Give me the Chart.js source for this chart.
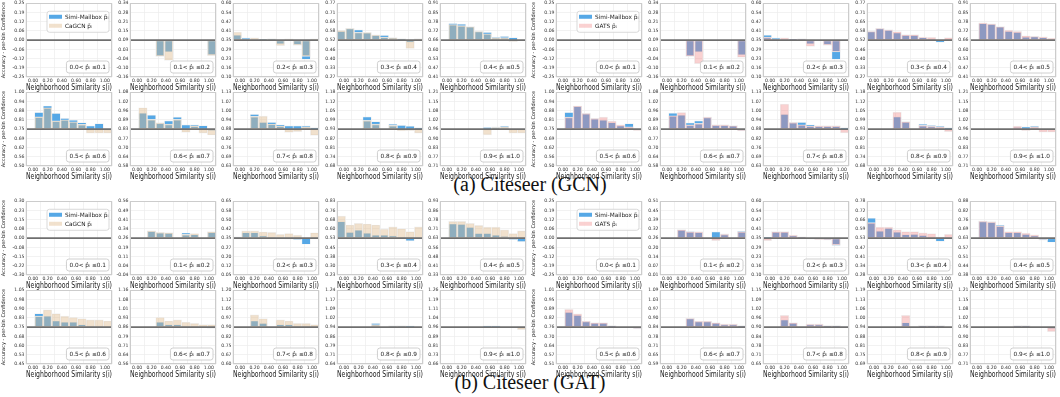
<!DOCTYPE html>
<html><head><meta charset="utf-8">
<script src="https://cdn.jsdelivr.net/npm/chart.js@4/dist/chart.umd.min.js"></script>
<style>
body{margin:0;background:#fff;width:1060px;height:397px;position:relative;overflow:hidden;font-family:"DejaVu Sans",sans-serif}
canvas.p{position:absolute}
.cap{position:absolute;left:0;width:1060px;text-align:center;font-family:"Liberation Serif",serif;font-size:20px;color:#111}
</style></head>
<body>
<div class="cap" style="top:173px">(a) Citeseer (GCN)</div>
<div class="cap" style="top:371px">(b) Citeseer (GAT)</div>
<script>
// ---------- data ----------
const bins = ['0.0-0.1','0.1-0.2','0.2-0.3','0.3-0.4','0.4-0.5','0.5-0.6','0.6-0.7','0.7-0.8','0.8-0.9','0.9-1.0'];
const confLabels = ['0.0< p\u0302\u1d62 \u22640.1','0.1< p\u0302\u1d62 \u22640.2','0.2< p\u0302\u1d62 \u22640.3','0.3< p\u0302\u1d62 \u22640.4','0.4< p\u0302\u1d62 \u22640.5',
                    '0.5< p\u0302\u1d62 \u22640.6','0.6< p\u0302\u1d62 \u22640.7','0.7< p\u0302\u1d62 \u22640.8','0.8< p\u0302\u1d62 \u22640.9','0.9< p\u0302\u1d62 \u22641.0'];
const xTickValues = [0, 0.2, 0.4, 0.6, 0.8, 1.0];

// y-axis limits per panel (tick labels are 9 evenly spaced values between them)
const yMinGCN = [-0.25, -0.16, 0.10, 0.27, 0.41, 0.50, 0.58, 0.63, 0.68, 0.71];
const yMaxGCN = [ 0.25,  0.34, 0.60, 0.77, 0.91, 1.00, 1.08, 1.13, 1.18, 1.21];
const yMinGAT_CaGCN = [-0.30, -0.04, 0.05, 0.23, 0.33, 0.45, 0.56, 0.60, 0.64, 0.66];
const yMaxGAT_CaGCN = [ 0.30,  0.56, 0.65, 0.83, 0.93, 1.05, 1.16, 1.20, 1.24, 1.26];
const yMinGAT_GATS = [-0.25, 0.01, 0.10, 0.28, 0.38, 0.51, 0.59, 0.65, 0.69, 0.71];
const yMaxGAT_GATS = [ 0.25, 0.51, 0.60, 0.78, 0.88, 1.01, 1.09, 1.15, 1.19, 1.21];

// per-bin accuracy, one row per confidence panel, one value per similarity bin
const simiGCN = [
 [null,null,null,null,null,null,null,null,null,null],
 [null,null,null,-0.02,0.01,null,null,null,null,-0.01],
 [0.384,0.365,0.358,0.356,0.358,0.325,null,0.316,0.22,null],
 [0.58,0.60,0.59,0.569,0.552,0.552,0.537,0.531,0.505,null],
 [null,0.773,0.769,0.752,0.72,0.713,0.681,0.686,0.677,null],
 [null,0.863,0.907,0.857,0.823,0.811,0.794,0.772,0.787,0.745],
 [null,0.938,0.925,0.872,0.886,0.911,0.859,0.859,0.854,0.82],
 [null,null,0.98,0.926,0.926,0.91,0.902,0.902,0.902,0.89],
 [null,null,null,1.013,0.981,null,0.964,0.955,0.95,0.94],
 [null,null,null,null,null,0.972,0.975,0.98,null,null]
];
const cagcnGCN = [
 [null,null,null,null,null,null,null,null,null,null],
 [null,null,null,-0.02,-0.047,null,null,null,null,-0.015],
 [0.405,0.358,0.365,0.356,0.358,0.312,0.358,0.316,0.24,0.358],
 [0.586,0.60,0.573,0.573,0.556,0.541,0.537,0.526,0.463,0.53],
 [null,0.766,0.758,0.752,0.72,0.703,0.677,0.677,0.65,null],
 [null,0.833,0.895,0.806,0.813,0.80,0.782,0.723,0.723,0.723],
 [null,0.975,0.896,0.872,0.864,0.896,0.808,0.852,0.803,0.79],
 [null,null,0.966,0.968,0.915,0.902,0.858,0.863,0.895,0.838],
 [null,null,null,0.989,0.964,null,0.955,0.918,0.92,0.903],
 [null,null,null,null,null,0.921,0.972,0.975,0.933,0.933]
];
const gatsGCN = [
 [null,null,null,null,null,null,null,null,null,null],
 [null,null,null,-0.02,-0.07,null,null,null,null,-0.027],
 [0.37,0.358,0.365,0.356,0.358,0.307,null,0.316,0.27,null],
 [0.58,0.60,0.59,0.578,0.558,0.558,0.541,0.539,0.514,0.537],
 [null,0.777,0.771,0.752,0.728,0.72,0.69,0.686,0.682,0.673],
 [null,0.831,0.907,0.857,0.823,0.831,0.804,0.779,0.765,0.74],
 [null,0.921,0.943,0.859,0.869,0.911,0.859,0.859,0.854,0.818],
 [null,null,1.05,0.926,0.91,0.902,0.902,0.902,0.902,0.855],
 [null,null,null,1.045,0.981,null,0.955,0.95,0.945,0.913],
 [null,null,null,null,null,0.98,0.95,0.975,0.94,0.94]
];
const simiGAT = [
 [null,null,null,null,null,null,null,null,null,null],
 [null,null,0.318,0.305,0.303,null,0.302,0.289,null,0.307],
 [0.355,0.394,0.394,0.368,0.358,0.345,0.341,0.338,0.30,null],
 [0.665,0.577,0.596,0.570,0.554,0.555,0.548,0.539,0.508,null],
 [null,0.745,0.742,0.718,0.668,0.668,0.655,0.645,0.617,0.602],
 [null,0.86,0.84,0.80,0.79,0.79,0.77,0.76,0.76,0.75],
 [null,null,null,0.90,0.88,0.88,0.87,0.86,0.86,0.85],
 [null,null,0.95,0.93,null,0.92,0.92,0.91,0.91,0.90],
 [null,null,null,null,0.97,null,0.95,0.95,0.95,null],
 [null,null,null,null,null,0.97,0.97,0.96,null,0.95]
];
const cagcnGAT = [
 [null,null,null,null,null,null,null,null,null,null],
 [null,null,0.319,0.307,0.304,null,0.29,0.298,null,0.313],
 [0.36,0.41,0.41,0.40,0.397,0.38,0.388,0.374,null,0.394],
 [0.71,0.637,0.651,0.645,0.637,0.604,0.622,0.607,0.583,0.622],
 [null,0.766,0.766,0.751,0.734,0.719,0.719,0.698,0.668,0.689],
 [null,0.84,0.89,0.86,0.84,0.83,0.82,0.81,0.81,0.80],
 [null,null,null,0.94,0.91,0.92,0.90,0.89,0.88,0.88],
 [null,null,1.0,0.97,null,0.96,0.95,0.93,0.93,0.92],
 [null,null,null,null,0.96,null,0.95,0.95,0.94,null],
 [null,null,null,null,null,0.96,0.96,0.96,null,0.94]
];
const gatsGAT = [
 [null,null,null,null,null,null,null,null,null,null],
 [null,null,0.317,0.304,0.302,null,0.243,0.287,null,0.304],
 [0.333,0.394,0.394,0.37,0.357,0.345,0.34,0.338,0.303,null],
 [0.635,0.605,0.605,0.586,0.574,0.574,0.566,0.561,0.537,0.556],
 [null,0.745,0.74,0.713,0.674,0.674,0.664,0.652,0.62,0.625],
 [null,0.88,0.85,0.80,0.79,0.79,0.77,0.76,0.76,0.75],
 [null,null,null,0.90,0.88,0.88,0.87,0.86,0.86,0.85],
 [null,null,0.98,0.93,null,0.92,0.92,0.91,0.91,0.90],
 [null,null,null,null,1.02,null,0.95,0.95,0.95,null],
 [null,null,null,null,null,0.97,0.97,0.96,null,0.93]
];

// ---------- styling ----------
const BLUE = 'rgb(86,168,230)';
const TAN = 'rgba(222,184,135,0.42)';
const PINK = 'rgba(240,128,128,0.36)';
const FONT = '"DejaVu Sans", sans-serif';

const groups = [
  {x:0,   rows:[3,92],    simi:simiGCN, other:cagcnGCN, name:'CaGCN', color:TAN,  yMin:yMinGCN, yMax:yMaxGCN},
  {x:530, rows:[3,92],    simi:simiGCN, other:gatsGCN,  name:'GATS',  color:PINK, yMin:yMinGCN, yMax:yMaxGCN},
  {x:0,   rows:[201,290], simi:simiGAT, other:cagcnGAT, name:'CaGCN', color:TAN,  yMin:yMinGAT_CaGCN, yMax:yMaxGAT_CaGCN},
  {x:530, rows:[201,290], simi:simiGAT, other:gatsGAT,  name:'GATS',  color:PINK, yMin:yMinGAT_GATS, yMax:yMaxGAT_GATS}
];
const colLeft = [26, 129.5, 233, 336.5, 440];
const PW = 86, PH = 74, YW = 26, PADT = 4, PADR = 8, XH = 15;

function fmt(v){
  const x = v*100;
  if (Math.abs(v*8 - Math.round(v*8)) < 1e-12 && Math.abs(Math.abs(x - Math.trunc(x)) - 0.5) < 1e-9) {
    let n = Math.floor(Math.abs(x)); if (n % 2 === 1) n += 1;
    return (v < 0 ? '-' : '') + (n/100).toFixed(2);
  }
  return v.toFixed(2);
}

function rrect(ctx,x,y,w,h,r){
  ctx.beginPath(); ctx.moveTo(x+r,y); ctx.lineTo(x+w-r,y); ctx.quadraticCurveTo(x+w,y,x+w,y+r);
  ctx.lineTo(x+w,y+h-r); ctx.quadraticCurveTo(x+w,y+h,x+w-r,y+h); ctx.lineTo(x+r,y+h);
  ctx.quadraticCurveTo(x,y+h,x,y+h-r); ctx.lineTo(x,y+r); ctx.quadraticCurveTo(x,y,x+r,y); ctx.closePath();
}

function decoPlugin(center, label, legend, name, color){
  return {
    id:'deco',
    afterDatasetsDraw(chart){
      const {ctx, chartArea:a, scales} = chart;
      ctx.save();
      const yc = scales.y.getPixelForValue(center);
      ctx.strokeStyle = '#6f6f6f'; ctx.lineWidth = 1.8;
      ctx.beginPath(); ctx.moveTo(a.left, yc); ctx.lineTo(a.right, yc); ctx.stroke();
      ctx.strokeStyle = '#cccccc'; ctx.lineWidth = 1;
      ctx.strokeRect(Math.round(a.left)+0.5, Math.round(a.top)+0.5, Math.round(a.right-a.left)-1, Math.round(a.bottom-a.top)-1);
      // confidence-bin annotation
      ctx.font = '5.8px ' + FONT;
      const tw = ctx.measureText(label).width;
      const bw = tw + 6, bh = 12;
      const bx = a.right - 3 - bw, by = a.bottom - 4 - bh;
      rrect(ctx,bx,by,bw,bh,2.5);
      ctx.fillStyle = 'rgba(255,255,255,0.85)'; ctx.fill();
      ctx.strokeStyle = '#c4c4c4'; ctx.lineWidth = 0.8; ctx.stroke();
      ctx.fillStyle = '#222'; ctx.textBaseline = 'middle'; ctx.textAlign = 'left';
      ctx.fillText(label, bx+3, by+bh/2+0.5);
      if (legend){
        const lx = a.left + 21, ly = a.top + 8, lw = 62, lh = 21;
        rrect(ctx,lx,ly,lw,lh,2.5);
        ctx.fillStyle = 'rgba(255,255,255,0.9)'; ctx.fill();
        ctx.strokeStyle = '#cfcfcf'; ctx.lineWidth = 0.8; ctx.stroke();
        ctx.fillStyle = BLUE; ctx.fillRect(lx+2, ly+3.5, 13, 4);
        ctx.fillStyle = color; ctx.fillRect(lx+2, ly+12.5, 13, 4);
        ctx.fillStyle = '#222'; ctx.font = '5.8px ' + FONT;
        ctx.fillText('Simi-Mailbox p\u0303\u1d62', lx+18, ly+5.8);
        ctx.fillText(name + ' p\u0303\u1d62', lx+18, ly+14.8);
      }
      ctx.restore();
    }
  };
}

function makePanel(g, k){
  const row = Math.floor(k/5), col = k%5;
  const PL = g.x + colLeft[col], PT = g.rows[row];
  const cv = document.createElement('canvas');
  cv.className = 'p';
  cv.width = YW + PW + PADR; cv.height = PADT + PH + XH;
  cv.style.left = (PL - YW) + 'px'; cv.style.top = (PT - PADT) + 'px';
  document.body.appendChild(cv);
  const lo = g.yMin[k], hi = g.yMax[k];
  const center = (lo + hi)/2;
  const yt = []; for (let i=0;i<=8;i++) yt.push(lo + i*(hi-lo)/8);
  const mk = arr => arr.map(v => v == null ? null : [center, v]);
  const barStyle = {grouped:false, barPercentage:1, categoryPercentage:1, borderWidth:0.7, borderColor:'rgba(240,240,240,0.9)', borderSkipped:false};
  new Chart(cv, {
    type:'bar',
    data:{labels:bins, datasets:[
      Object.assign({label:g.name, data:mk(g.other[k]), backgroundColor:g.color, order:0}, barStyle),
      Object.assign({label:'Simi-Mailbox', data:mk(g.simi[k]), backgroundColor:BLUE, order:1}, barStyle)
    ]},
    options:{
      responsive:false, animation:false, devicePixelRatio:1,
      layout:{padding:{top:PADT, right:PADR, left:0, bottom:0}},
      plugins:{legend:{display:false}, tooltip:{enabled:false}},
      scales:{
        x:{type:'category', display:false, offset:true},
        xs:{type:'linear', position:'bottom', min:0, max:1,
            afterBuildTicks: ax => { ax.ticks = xTickValues.map(v => ({value:v})); },
            ticks:{callback: v => v.toFixed(2), font:{size:4.6, family:FONT}, color:'#333', padding:1, maxRotation:0, autoSkip:false},
            grid:{color:'#ececec', lineWidth:0.7, drawTicks:false},
            border:{display:false},
            title:{display:true, text:'Neighborhood Similarity s(i)', font:{size:8, family:FONT, lineHeight:1.0}, color:'#222', padding:{top:0,bottom:0.5}},
            afterFit: s => { s.height = XH; }},
        y:{min:lo, max:hi,
           afterBuildTicks: ax => { ax.ticks = yt.map(v => ({value:v})); },
           ticks:{callback: v => fmt(v), font:{size:4.6, family:FONT}, color:'#333', padding:1.5, autoSkip:false},
           grid:{color:'#ececec', lineWidth:0.7, drawTicks:false},
           border:{display:false},
           title:{display: col===0, text:'Accuracy - per-bin Confidence', font:{size:5.1, family:FONT, lineHeight:1.0}, color:'#222', padding:{top:1,bottom:0}},
           afterFit: s => { s.width = YW; }}
      }
    },
    plugins:[decoPlugin(center, confLabels[k], k===0, g.name, g.color)]
  });
}

groups.forEach(g => { for (let k=0;k<10;k++) makePanel(g,k); });
</script>
</body></html>
